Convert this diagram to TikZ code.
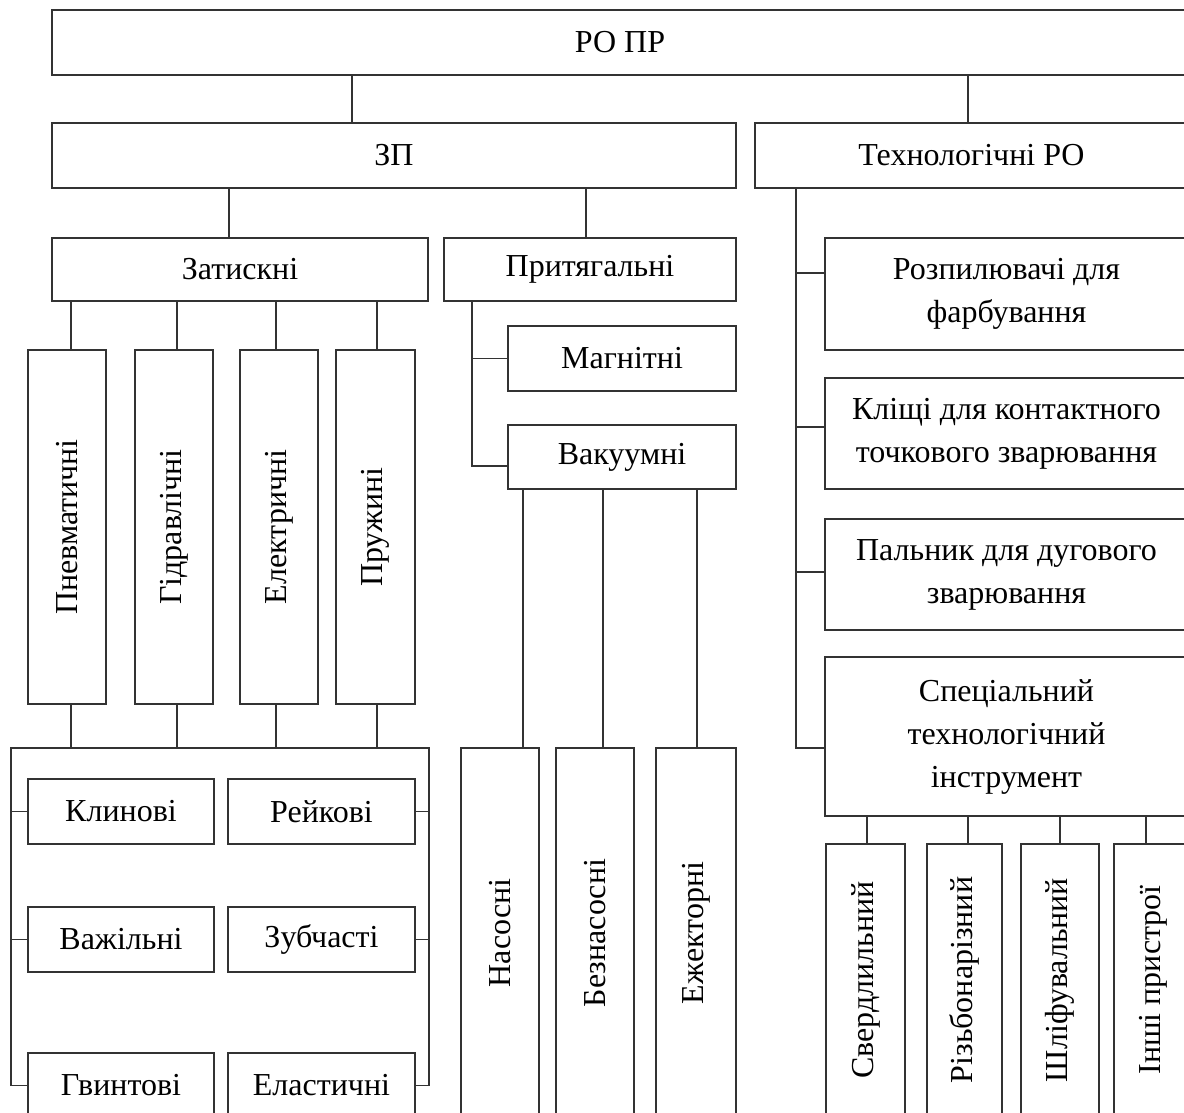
\documentclass[tikz,border=0pt]{standalone}
\usepackage{fontspec}
\setmainfont{Liberation Serif}
\usepackage{graphicx}

\newcommand{\vtext}[1]{\rotatebox{90}{#1}}

\begin{document}
\begin{tikzpicture}[
    x=0.5pt, y=-0.5pt,
    every node/.style = {font=\fontsize{16}{21.5}\selectfont},
    box/.style 2 args = {draw=black!80, line width=0.75pt, inner sep=0pt, align=center,
                         minimum width=#1*0.5pt, minimum height=#2*0.5pt},
    link/.style = {draw=black!80, line width=0.75pt}
  ]

  \clip (0,0) rectangle (1184,1113);

  % Top levels
  \node[box={1136}{65}] (ropr) at (620,42.5) {РО ПР};
  \node[box={684}{65}] (zp) at (394,155.5) {ЗП};
  \node[box={433}{65}] (tech) at (971.5,155.5) {Технологічні РО};
  \node[box={376}{63}] (zat) at (240,269.5) {Затискні};
  \node[box={292}{63}] (prit) at (590,269.5) {Притягальні};

  \draw[link] (ropr.south -| 352,0) -- (zp.north -| 352,0);
  \draw[link] (ropr.south -| 968,0) -- (tech.north -| 968,0);
  \draw[link] (zp.south -| 229,0) -- (zat.north -| 229,0);
  \draw[link] (zp.south -| 586,0) -- (prit.north -| 586,0);

  % Drives of the clamping grippers
  \node[box={78}{354}] (pnev) at (67,527) {\vtext{Пневматичні}};
  \node[box={78}{354}] (gidr) at (174,527) {\vtext{Гідравлічні}};
  \node[box={78}{354}] (elek) at (279,527) {\vtext{Електричні}};
  \node[box={79}{354}] (pruzh) at (375.5,527) {\vtext{Пружині}};

  % Mechanisms of the clamping grippers
  \node[box={186}{65}] (klyn) at (121,811.5) {Клинові};
  \node[box={187}{65}] (reyk) at (321.5,811.5) {Рейкові};
  \node[box={186}{65}] (vazh) at (121,939.5) {Важільні};
  \node[box={187}{65}] (zub) at (321.5,939.5) {Зубчасті};
  \node[box={186}{65}] (gvynt) at (121,1085.5) {Гвинтові};
  \node[box={187}{65}] (elast) at (321.5,1085.5) {Еластичні};

  \coordinate (brl) at (11,748);
  \coordinate (brr) at (429,748);
  \draw[link] (brl |- gvynt.west) -- (brl) -- (brr) -- (brr |- elast.east);
  \foreach \n/\x in {pnev/71, gidr/177, elek/276, pruzh/377} {
    \draw[link] (zat.south -| \x,0) -- (\n.north -| \x,0);
    \draw[link] (\n.south -| \x,0) -- (brl -| \x,0);
  }
  \foreach \n in {klyn, vazh, gvynt}
    \draw[link] (brl |- \n.west) -- (\n.west);
  \foreach \n in {reyk, zub, elast}
    \draw[link] (brr |- \n.east) -- (\n.east);

  % Attracting grippers
  \node[box={228}{65}] (magn) at (622,358.5) {Магнітні};
  \node[box={228}{64}] (vak) at (622,457) {Вакуумні};

  \coordinate (ptop) at (prit.south -| 472,0);
  \draw[link] (ptop) |- (magn.west);
  \draw[link] (ptop) |- (vak.west |- 0,466);

  \node[box={78}{370}] (nas) at (500,933) {\vtext{Насосні}};
  \node[box={78}{370}] (beznas) at (595,933) {\vtext{Безнасосні}};
  \node[box={80}{370}] (ezhek) at (696,933) {\vtext{Ежекторні}};
  \foreach \n/\x in {nas/523, beznas/603, ezhek/697}
    \draw[link] (vak.south -| \x,0) -- (\n.north -| \x,0);

  % Technological tools
  \node[box={363}{112}] (rozp) at (1006.5,294) {Розпилювачі для\\фарбування};
  \node[box={363}{111}] (klis) at (1006.5,433.5) {Кліщі для контактного\\точкового зварювання};
  \node[box={363}{111}] (paln) at (1006.5,574.5) {Пальник для дугового\\зварювання};
  \node[box={363}{159}] (spec) at (1006.5,736.5) {Спеціальний\\технологічний\\інструмент};

  \coordinate (ttop) at (tech.south -| 796,0);
  \foreach \n/\y in {rozp/273, klis/427, paln/572, spec/748}
    \draw[link] (ttop) |- (\n.west |- 0,\y);

  \node[box={79}{272}] (sverd) at (865.5,980) {\vtext{Свердлильний}};
  \node[box={75}{272}] (rizb) at (964.5,980) {\vtext{Різьбонарізний}};
  \node[box={78}{272}] (shlif) at (1060,980) {\vtext{Шліфувальний}};
  \node[box={78}{272}] (inshi) at (1153,980) {\vtext{Інші пристрої}};
  \foreach \n/\x in {sverd/867, rizb/968, shlif/1060, inshi/1146}
    \draw[link] (spec.south -| \x,0) -- (\n.north -| \x,0);

\end{tikzpicture}
\end{document}
